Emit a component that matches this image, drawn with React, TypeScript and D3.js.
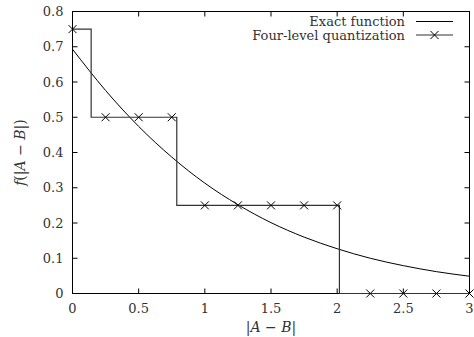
import React, { useEffect, useRef } from 'react';
import * as d3 from 'd3';

// exact function values
const exactX = [0, 0.25, 0.5, 0.75, 1, 1.25, 1.5, 1.75, 2, 2.25, 2.5, 2.75, 3];
const exactY = [0.693, 0.576, 0.474, 0.387, 0.313, 0.252, 0.201, 0.160, 0.127, 0.100, 0.079, 0.062, 0.049];

// four-level quantization: step edges and levels
const stepX = [0, 0.141, 0.788, 2.017, 3];
const stepY = [0.75, 0.5, 0.25, 0, 0];

// marker samples
const markX = [0, 0.25, 0.5, 0.75, 1, 1.25, 1.5, 1.75, 2, 2.25, 2.5, 2.75, 3];
const markY = [0.75, 0.5, 0.5, 0.5, 0.25, 0.25, 0.25, 0.25, 0.25, 0, 0, 0, 0];

const xTicks = [0, 0.5, 1, 1.5, 2, 2.5, 3];
const yTicks = [0, 0.1, 0.2, 0.3, 0.4, 0.5, 0.6, 0.7, 0.8];

const legendLabels = ['Exact function', 'Four-level quantization'];

const W = 474;
const H = 337;
const FONT = '"DejaVu Serif", serif';

const App = () => {
    const svgRef = useRef<SVGSVGElement>(null);

    useEffect(() => {
        const svg = d3.select(svgRef.current);
        svg.selectAll('*').remove();

        const left = 72.5, right = 469.5, top = 11.5, bottom = 293.5;

        const x = d3.scaleLinear().domain([0, 3]).range([left, right]);
        const y = d3.scaleLinear().domain([0, 0.8]).range([bottom, top]);

        const g = svg.append('g');

        // ticks (inward, mirrored)
        const tl = 5;
        xTicks.forEach(t => {
            g.append('line').attr('x1', x(t)).attr('x2', x(t)).attr('y1', bottom).attr('y2', bottom - tl)
                .attr('stroke', '#000');
            g.append('line').attr('x1', x(t)).attr('x2', x(t)).attr('y1', top).attr('y2', top + tl)
                .attr('stroke', '#000');
            g.append('text').attr('x', x(t)).attr('y', bottom + 19)
                .attr('text-anchor', 'middle').attr('font-family', FONT).attr('font-size', 13)
                .attr('fill', '#333').text(d3.format('')(t));
        });
        yTicks.forEach(t => {
            g.append('line').attr('x1', left).attr('x2', left + tl).attr('y1', y(t)).attr('y2', y(t))
                .attr('stroke', '#000');
            g.append('line').attr('x1', right).attr('x2', right - tl).attr('y1', y(t)).attr('y2', y(t))
                .attr('stroke', '#000');
            g.append('text').attr('x', left - 9).attr('y', y(t) + 4.5)
                .attr('text-anchor', 'end').attr('font-family', FONT).attr('font-size', 13)
                .attr('fill', '#333').text(t === 0 ? '0' : d3.format('.1f')(t));
        });

        // frame
        g.append('rect').attr('x', left).attr('y', top).attr('width', right - left).attr('height', bottom - top)
            .attr('fill', 'none').attr('stroke', '#000').attr('stroke-width', 1);

        // exact function
        const exactLine = d3.line<number>()
            .x((d, i) => x(exactX[i]))
            .y(d => y(d))
            .curve(d3.curveMonotoneX);
        g.append('path').attr('d', exactLine(exactY)).attr('fill', 'none')
            .attr('stroke', '#000').attr('stroke-width', 1);

        // quantization steps
        const stepLine = d3.line<number>()
            .x((d, i) => x(stepX[i]))
            .y(d => y(d))
            .curve(d3.curveStepAfter);
        g.append('path').attr('d', stepLine(stepY)).attr('fill', 'none')
            .attr('stroke', '#333').attr('stroke-width', 1.2);

        const cross = (cx: number, cy: number) => {
            const s = 4;
            g.append('path')
                .attr('d', `M${cx - s},${cy - s}L${cx + s},${cy + s}M${cx - s},${cy + s}L${cx + s},${cy - s}`)
                .attr('stroke', '#000').attr('stroke-width', 1).attr('fill', 'none');
        };
        markY.forEach((v, i) => cross(x(markX[i]), y(v)));

        // legend
        const lx = 405, ly = [21.5, 35];
        legendLabels.forEach((lab, i) => {
            g.append('text').attr('x', lx).attr('y', ly[i] + 4.5).attr('text-anchor', 'end')
                .attr('font-family', FONT).attr('font-size', 13).attr('fill', '#333').text(lab);
            g.append('line').attr('x1', 416).attr('x2', 453).attr('y1', ly[i]).attr('y2', ly[i])
                .attr('stroke', i === 0 ? '#000' : '#333').attr('stroke-width', i === 0 ? 1 : 1.2);
        });
        cross(434.5, ly[1]);

        // axis labels
        const xl = g.append('text').attr('x', (left + right) / 2).attr('y', bottom + 38)
            .attr('text-anchor', 'middle').attr('font-family', FONT).attr('font-size', 14).attr('fill', '#333');
        xl.append('tspan').text('|');
        xl.append('tspan').attr('font-style', 'italic').text('A');
        xl.append('tspan').text(' − ');
        xl.append('tspan').attr('font-style', 'italic').text('B');
        xl.append('tspan').text('|');

        const yl = g.append('text').attr('transform', `translate(25,${(top + bottom) / 2}) rotate(-90)`)
            .attr('text-anchor', 'middle').attr('font-family', FONT).attr('font-size', 14).attr('fill', '#333');
        yl.append('tspan').attr('font-style', 'italic').text('f');
        yl.append('tspan').text('(|');
        yl.append('tspan').attr('font-style', 'italic').text('A');
        yl.append('tspan').text(' − ');
        yl.append('tspan').attr('font-style', 'italic').text('B');
        yl.append('tspan').text('|)');
    }, []);

    return (
        <svg ref={svgRef} width={W} height={H}
            style={{ position: 'absolute', left: 0, top: 0, background: '#fff' }} />
    );
};

export default App;
